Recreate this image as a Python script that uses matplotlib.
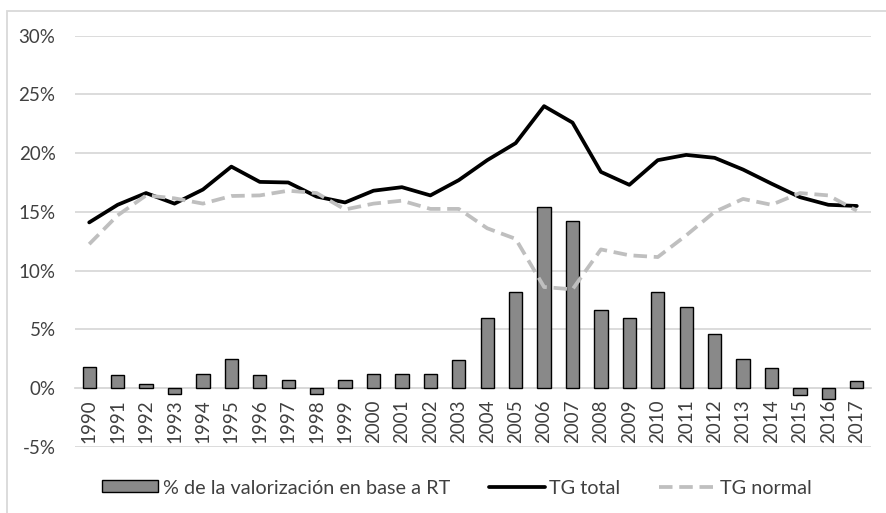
import numpy as np
import matplotlib
matplotlib.use("Agg")
import matplotlib.pyplot as plt
from matplotlib.patches import Rectangle

plt.rcParams['font.family'] = ['Lato', 'DejaVu Sans']

years = [str(y) for y in range(1990, 2018)]

# % de la valorizacion en base a RT (bars)
valorizacion = [1.8, 1.1, 0.3, -0.5, 1.2, 2.5, 1.1, 0.65, -0.5, 0.65,
                1.2, 1.2, 1.2, 2.4, 6.0, 8.2, 15.4, 14.2, 6.6, 6.0,
                8.2, 6.9, 4.6, 2.5, 1.7, -0.6, -0.9, 0.6]

tg_total = [14.1, 15.6, 16.6, 15.7, 16.9, 18.85, 17.55, 17.5, 16.3, 15.8,
            16.8, 17.1, 16.4, 17.7, 19.4, 20.85, 24.0, 22.6, 18.4, 17.3,
            19.4, 19.85, 19.6, 18.6, 17.4, 16.25, 15.6, 15.5]

tg_normal = [12.25, 14.7, 16.4, 16.15, 15.7, 16.35, 16.4, 16.8, 16.6, 15.2,
             15.7, 15.95, 15.25, 15.25, 13.6, 12.7, 8.6, 8.4, 11.8, 11.3,
             11.15, 13.0, 15.0, 16.1, 15.6, 16.6, 16.4, 15.1]

yticks = [-5, 0, 5, 10, 15, 20, 25, 30]

txt = '#404040'
grid = '#d9d9d9'

fig = plt.figure(figsize=(8.87, 5.13), dpi=100)
ax = fig.add_axes([75/887, 1-446.7/513, 796/887, (446.7-35.7)/513])

x = np.arange(len(years))
bars = ax.bar(x, valorizacion, width=0.47, color='#898989', edgecolor='black',
              linewidth=1.0, label='% de la valorización en base a RT', zorder=3)
l1, = ax.plot(x, tg_total, color='black', linewidth=2.7, label='TG total',
              solid_capstyle='round', solid_joinstyle='round', zorder=4)
l2, = ax.plot(x, tg_normal, color='#bfbfbf', linewidth=2.7, label='TG normal',
              dashes=(3.6, 1.8), zorder=4)

# x axis sits at 0 (set before ticks, it resets them)
ax.spines['bottom'].set_position(('data', 0))
ax.spines['bottom'].set_color(grid)
ax.spines['bottom'].set_linewidth(1.3)
for s in ['top', 'right', 'left']:
    ax.spines[s].set_visible(False)

ax.set_xlim(-0.5, len(years)-0.5)
ax.set_ylim(-5, 30)
ax.set_yticks(yticks)
ax.set_yticklabels([f'{v}%' for v in yticks])
ax.yaxis.grid(True, color=grid, linewidth=1.3, zorder=0)
ax.set_axisbelow(True)

ax.set_xticks(x)
ax.set_xticklabels(years)
ax.tick_params(axis='x', length=0, pad=8, labelsize=13.5, labelcolor=txt,
               labelrotation=90)
ax.tick_params(axis='y', length=0, pad=14, labelsize=13.5, labelcolor=txt)

fig.legend([bars, l1, l2], [bars.get_label(), l1.get_label(), l2.get_label()],
           loc='center', bbox_to_anchor=(457/887, 1-488/513), ncol=3,
           frameon=False, fontsize=14.3, labelcolor=txt,
           handlelength=2.8, handleheight=0.55, handletextpad=0.25,
           columnspacing=1.95)

# outer frame
fig.patches.append(Rectangle((7/887, -0.1), 1.2, 1-11/513+0.1,
                             transform=fig.transFigure, fill=False,
                             edgecolor=grid, linewidth=1.3))

fig.savefig('out.png', dpi=100)
